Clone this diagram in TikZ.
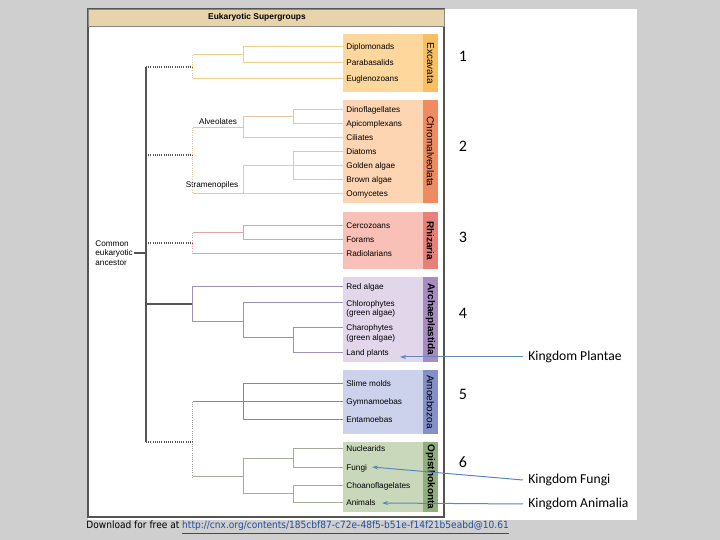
\documentclass[tikz,border=0pt]{standalone}
\usepackage{fontspec}
\setmainfont{Liberation Sans}
\newfontfamily\calfont{Carlito}
\newfontfamily\dlfont{DejaVu Sans}
\usetikzlibrary{arrows.meta}

\definecolor{bggray}{HTML}{D0CFCF}
\definecolor{framegray}{HTML}{555555}
\definecolor{headtan}{HTML}{E8D4AA}
\definecolor{trunkgray}{HTML}{555555}
\definecolor{linkblue}{HTML}{1F4FA0}
\definecolor{arrowblue}{HTML}{5B87BE}
% supergroup colours: box, strip, branch
\definecolor{excbox}{HTML}{FDD79B}
\definecolor{excstrip}{HTML}{F7BF62}
\definecolor{excline}{HTML}{EDD08E}
\definecolor{chrbox}{HTML}{FDD5B2}
\definecolor{chrstrip}{HTML}{EE8B62}
\definecolor{chrline}{HTML}{E6C7A0}
\definecolor{rhibox}{HTML}{F8C0B6}
\definecolor{rhistrip}{HTML}{E8807A}
\definecolor{rhiline}{HTML}{DCA4A4}
\definecolor{arcbox}{HTML}{E1D6EA}
\definecolor{arcstrip}{HTML}{A88BC2}
\definecolor{arcline}{HTML}{9F92B7}
\definecolor{amobox}{HTML}{CDD2EC}
\definecolor{amostrip}{HTML}{8590C9}
\definecolor{amoline}{HTML}{7D8BA2}
\definecolor{opibox}{HTML}{C9D8BA}
\definecolor{opistrip}{HTML}{92AE7E}
\definecolor{opiline}{HTML}{A4AD9B}

\tikzset{
  taxon/.style={anchor=west, inner xsep=1.5pt, inner ysep=0pt, align=left,
    font=\fontsize{4.1}{4.7}\selectfont},
  cladelabel/.style={inner sep=0pt, font=\fontsize{4.1}{4.7}\selectfont},
  supergroup/.style={rotate=-90, inner sep=0pt, font=\fontsize{5}{5}\selectfont},
  kingdom/.style={anchor=west, inner sep=0pt, font=\calfont\fontsize{6.8}{7}\selectfont},
  groupnum/.style={inner sep=0pt, font=\calfont\fontsize{8}{8}\selectfont},
  branch/.style={line width=0.5pt},
  dots/.style={dash pattern=on 0.5pt off 0.6pt},
  trunk/.style={draw=trunkgray, line width=0.6pt},
  kingarrow/.style={draw=arrowblue, line width=0.5pt, -{Stealth[length=3pt,width=2pt]}},
}

\begin{document}
\begin{tikzpicture}[x=0.5pt,y=-0.5pt]
    \fill[bggray] (0,0) rectangle (720,540);
    \useasboundingbox (0,0) rectangle (720,540);
    \fill[white] (88,9) rectangle (637,520);

    % frame and header
    \draw[framegray, line width=0.6pt, fill=white] (88,9) rectangle (444,517);
    \draw[framegray!70, line width=0.4pt, fill=headtan] (88,9) rectangle (444,26);
    \node[inner sep=0pt, font=\bfseries\fontsize{4.2}{5}\selectfont] (title) at (257,17.5) {Eukaryotic Supergroups};

    % supergroup boxes
    \foreach \top/\bot/\c/\lab in {34/92/exc/Excavata, 100/203/chr/Chromalveolata,
        212/269/rhi/\textbf{Rhizaria}, 277/362/arc/\textbf{Archaeplastida},
        370/434/amo/Amoebozoa, 442/512/opi/\textbf{Opisthokonta}} {
        \fill[\c box] (343,\top) rectangle (423,\bot);
        \fill[\c strip] (423,\top) rectangle (438,\bot);
        \node[supergroup] (\c) at (430.5,{(\top+\bot)/2}) {\lab};
    }

    % taxa
    \foreach \y/\n/\t in {47/dipl/Diplomonads, 63/para/Parabasalids, 79/eugl/Euglenozoans,
        110/dino/Dinoflagellates, 124/apic/Apicomplexans, 138/cili/Ciliates,
        152/diat/Diatoms, 166/gold/Golden algae, 180/brow/Brown algae, 194/oomy/Oomycetes,
        226/cerc/Cercozoans, 240/fora/Forams, 254/radi/Radiolarians,
        287/red/Red algae, 353/land/Land plants,
        384/slim/Slime molds, 402/gymn/Gymnamoebas, 420/enta/Entamoebas,
        449/nucl/Nuclearids, 468/fung/Fungi, 486/choa/Choanoflagelates, 503/anim/Animals} {
        \node[taxon] (\n) at (343,\y) {\t};
    }
    \node[taxon] (chlo) at (343,309) {Chlorophytes\\(green algae)};
    \node[taxon] (char) at (343,333.5) {Charophytes\\(green algae)};

    \node[taxon, anchor=west, inner xsep=0pt] (anc) at (95,253) {Common\\eukaryotic\\ancestor};
    \node[cladelabel] (alve) at (218,122) {Alveolates};
    \node[cladelabel] (stra) at (212,185) {Stramenopiles};

    % trunk
    \draw[trunk] (146,67) -- (146,442);
    \draw[trunk] (anc.east) ++(1,0) -- (146,253);
    \draw[trunk, dots] (146,67) -- (193,67);
    \draw[trunk, dots] (146,155) -- (193,155);
    \draw[trunk, dots] (146,243) -- (193,243);
    \draw[trunk] (146,304) -- (193,304);
    \draw[trunk, dots] (146,442) -- (193,442);

    % Excavata
    \draw[branch, excline] (dipl.west) -| (244,63) -- (para.west)
        (244,55) -- (193,55) (eugl.west) -- (193,79);
    \draw[branch, excline, dots] (193,55) -- (193,79);

    % Chromalveolata
    \draw[branch, chrline] (dino.west) -| (294,124) -- (apic.west)
        (294,117) -- (244,117) |- (cili.west) (244,128) -- (193,128);
    \draw[branch, chrline] (diat.west) -| (294,180) -- (brow.west)
        (gold.west) -- (244,166) |- (oomy.west) (244,194) -- (193,194);
    \draw[branch, chrline, dots] (193,128) -- (193,194);

    % Rhizaria
    \draw[branch, rhiline] (cerc.west) -| (244,240) -- (fora.west)
        (244,233) -- (193,233) (radi.west) -- (193,254);
    \draw[branch, rhiline, dots] (193,233) -- (193,254);

    % Archaeplastida
    \draw[branch, arcline] (red.west) -| (193,322) -- (244,322)
        (343,303) -| (244,338) -- (294,338)
        (343,328) -| (294,353) -- (land.west);

    % Amoebozoa
    \draw[branch, amoline] (slim.west) -| (244,420) -- (enta.west)
        (gymn.west) -- (193,402);
    \draw[branch, trunkgray!60, dots] (193,402) -- (193,477);

    % Opisthokonta
    \draw[branch, opiline] (nucl.west) -| (294,468) -- (fung.west)
        (294,459) -- (244,459) |- (294,494)
        (choa.west) -| (294,503) -- (anim.west)
        (244,477) -- (193,477);

    % numbers and kingdoms
    \foreach \y/\k in {56/1, 146/2, 237/3, 313/4, 394/5, 462/6} {
        \node[groupnum] (num\k) at (463,\y) {\k};
    }
    \node[kingdom] (plantae) at (528,357) {Kingdom Plantae};
    \node[kingdom] (fungi) at (528,480) {Kingdom Fungi};
    \node[kingdom] (animalia) at (528,504) {Kingdom Animalia};
    \draw[kingarrow] (plantae.west) ++(-5,0) -- (400,357);
    \draw[kingarrow] (fungi.west) ++(-5,0) -- (372,467);
    \draw[kingarrow] (animalia.west) ++(-5,0) -- (382,503);

    % source line
    \node[anchor=west, inner sep=0pt, font=\dlfont\fontsize{5}{5}\selectfont, xscale=0.905] (source) at (86,528)
        {Download for free at {\color{linkblue}\underline{http://cnx.org/contents/185cbf87-c72e-48f5-b51e-f14f21b5eabd@10.61}}};
\end{tikzpicture}
\end{document}
